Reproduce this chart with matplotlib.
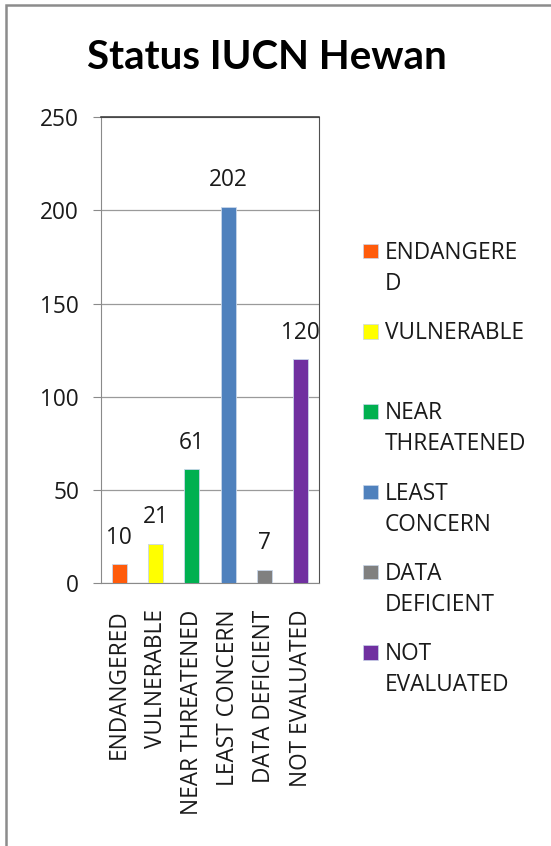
import matplotlib.pyplot as plt
import matplotlib.patches as mpatches
import numpy as np

categories = ['ENDANGERED', 'VULNERABLE', 'NEAR THREATENED', 'LEAST CONCERN',
              'DATA DEFICIENT', 'NOT EVALUATED']
legend_labels = ['ENDANGERE\nD', 'VULNERABLE', 'NEAR\nTHREATENED', 'LEAST\nCONCERN',
                 'DATA\nDEFICIENT', 'NOT\nEVALUATED']
counts = [10, 21, 61, 202, 7, 120]
colors = ['#FF5B0B', '#FFFF00', '#00B050', '#4F81BD', '#808080', '#7030A0']
yticks = [0, 50, 100, 150, 200, 250]


def chart():
    W, H = 551, 846
    plt.rcParams['font.family'] = ['Open Sans', 'DejaVu Sans']
    fig = plt.figure(figsize=(W / 100, H / 100), dpi=100)
    fs = 16.3
    txt = '#1a1a1a'

    # outer chart border (cropped at right and bottom)
    fig.patches.append(mpatches.Rectangle((5.5 / W, -0.05), 1.2, 1 - 5.5 / H + 0.05,
                                          transform=fig.transFigure, fill=False,
                                          edgecolor='#8c8c8c', linewidth=1.8))

    ax = fig.add_axes([101 / W, 1 - 583 / H, 218 / W, 465.7 / H])
    idx = np.arange(len(categories))
    ax.bar(idx, counts, 0.41, color=colors, edgecolor='#c8d6ea', linewidth=0.6, zorder=3)
    for i, v in enumerate(counts):
        ax.annotate(str(v), (i, v), xytext=(0, 10.5), textcoords='offset points',
                    ha='center', va='bottom', fontsize=fs, color=txt)

    ax.set_xlim(-0.5, len(categories) - 0.5)
    ax.set_ylim(0, 250)
    ax.set_yticks(yticks)
    ax.yaxis.grid(True, color='#9a9a9a', linewidth=0.9, zorder=0)
    ax.tick_params(axis='y', length=5.8, color='#8a8a8a', labelsize=fs, pad=10,
                   labelcolor=txt)
    ax.set_xticks(idx)
    ax.set_xticklabels(categories, rotation=90, fontsize=fs, color=txt)
    ax.tick_params(axis='x', length=0, pad=19)
    for s in ['left', 'bottom']:
        ax.spines[s].set_color('#8a8a8a')
    ax.spines['top'].set_color('#303030')
    ax.spines['top'].set_linewidth(1.1)
    ax.spines['right'].set_color('#505050')

    fig.text(0.484, 1 - 57.5 / H, 'Status IUCN Hewan', ha='center', va='center',
             fontsize=29, fontweight='bold', family=['Lato', 'DejaVu Sans'])

    # legend on the right
    for i, (lab, c) in enumerate(zip(legend_labels, colors)):
        top = 244 + i * 80.2
        fig.patches.append(mpatches.Rectangle((363 / W, 1 - (top + 14.5) / H), 14.5 / W,
                                              14.5 / H, transform=fig.transFigure,
                                              facecolor=c, edgecolor='#c8d6ea',
                                              linewidth=0.5))
        for j, line in enumerate(lab.split('\n')):
            fig.text(385 / W, 1 - (top + 15 + 31 * j) / H, line, ha='left',
                     va='baseline', fontsize=fs, color=txt)

    fig.savefig('out.png', dpi=100)


if __name__ == '__main__':
    chart()
